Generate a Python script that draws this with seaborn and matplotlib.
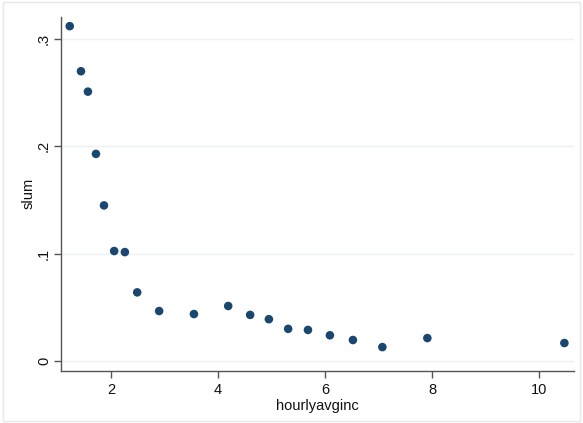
import matplotlib
matplotlib.use("Agg")
import matplotlib.pyplot as plt
import seaborn as sns
import pandas as pd
from matplotlib.patches import Rectangle

hourlyavginc = [1.23, 1.44, 1.57, 1.72, 1.87, 2.06, 2.26, 2.49, 2.90, 3.55,
                4.19, 4.60, 4.95, 5.31, 5.68, 6.09, 6.52, 7.07, 7.91, 10.47]
slum = [0.312, 0.270, 0.251, 0.193, 0.145, 0.1025, 0.1015, 0.064, 0.0466, 0.0438,
        0.0513, 0.043, 0.039, 0.030, 0.029, 0.024, 0.0196, 0.013, 0.0214, 0.0168]
yticks = [0, 0.1, 0.2, 0.3]
yticklabels = ["0", ".1", ".2", ".3"]
xticks = [2, 4, 6, 8, 10]

df = pd.DataFrame({"hourlyavginc": hourlyavginc, "slum": slum})

sns.set_theme(style="white")
plt.rcParams["font.family"] = ["Liberation Sans", "DejaVu Sans"]

fig = plt.figure(figsize=(5.83, 4.23), dpi=100)
fig.patches.append(Rectangle((0.005, 0.005), 0.99, 0.99, transform=fig.transFigure,
                             fill=False, edgecolor="#e8e8e8", linewidth=1))
ax = fig.add_axes([0.104, 0.1236, 0.8806, 0.8364])

for v in yticks:
    ax.axhline(v, color="#eaf2f3", linewidth=1.0, zorder=0)

sns.scatterplot(data=df, x="hourlyavginc", y="slum", ax=ax, color="#1a476f",
                s=38, edgecolor="none", zorder=3)

ax.set_xlim(1.06, 10.65)
ax.set_ylim(-0.009, 0.3206)
ax.set_xticks(xticks)
ax.set_xticklabels([str(t) for t in xticks])
ax.set_yticks(yticks)
ax.set_yticklabels(yticklabels, rotation=90, va="center")

for side in ["top", "right"]:
    ax.spines[side].set_visible(False)
for side in ["left", "bottom"]:
    ax.spines[side].set_color("#555555")
    ax.spines[side].set_linewidth(1.0)

ax.tick_params(axis="both", which="major", direction="out", length=5, width=1,
               color="#555555", labelsize=10.5, labelcolor="#111111", pad=4,
               left=True, bottom=True)
ax.tick_params(axis="y", pad=2)
ax.set_xlabel("hourlyavginc", fontsize=10.5, color="#111111", labelpad=1)
ax.set_ylabel("slum", fontsize=10.5, color="#111111", labelpad=1)

fig.savefig("out.png", dpi=100)
